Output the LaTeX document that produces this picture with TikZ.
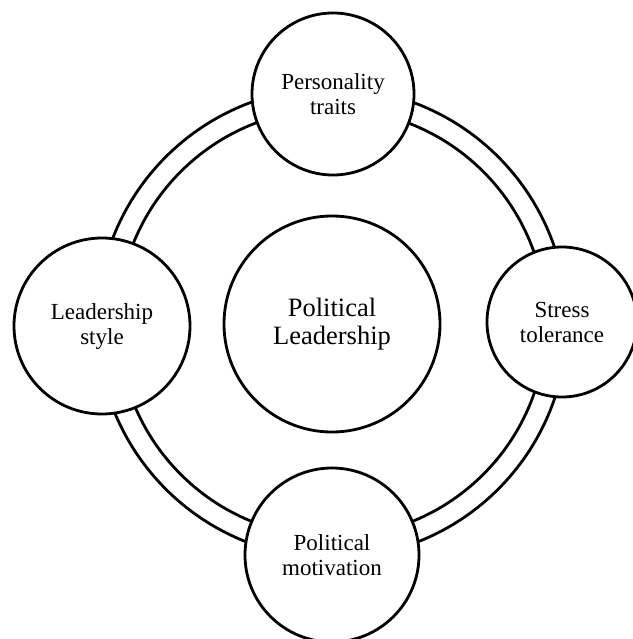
\documentclass[tikz,border=0pt]{standalone}
\usepackage{fontspec}
\setmainfont{Liberation Serif}
\begin{document}
\begin{tikzpicture}[x=1pt,y=-1pt,
  ringline/.style={line width=2.8pt},
  bubble/.style={circle,draw,fill=white,line width=2.8pt,inner sep=0pt,
    align=center,font=\fontsize{23}{25}\selectfont},
  hub/.style={bubble,font=\fontsize{26.5}{28}\selectfont}]
  \useasboundingbox (0,0) rectangle (632,639);

  % double ring linking the outer factors
  \coordinate (ringc) at (332,323);
  \draw[ringline] (ringc) circle[radius=235];
  \draw[ringline] (ringc) circle[radius=214];

  % central concept
  \node[hub,minimum size=216pt] (core) at (332,324) {Political\\Leadership};

  % surrounding factors
  \node[bubble,minimum size=162pt] (traits) at (333,94) {Personality\\traits};
  \node[bubble,minimum size=176pt] (style) at (102,326) {Leadership\\style};
  \node[bubble,minimum size=150pt] (stress) at (562,322) {Stress\\tolerance};
  \node[bubble,minimum size=174pt] (motiv) at (332,555) {Political\\motivation};
\end{tikzpicture}
\end{document}
